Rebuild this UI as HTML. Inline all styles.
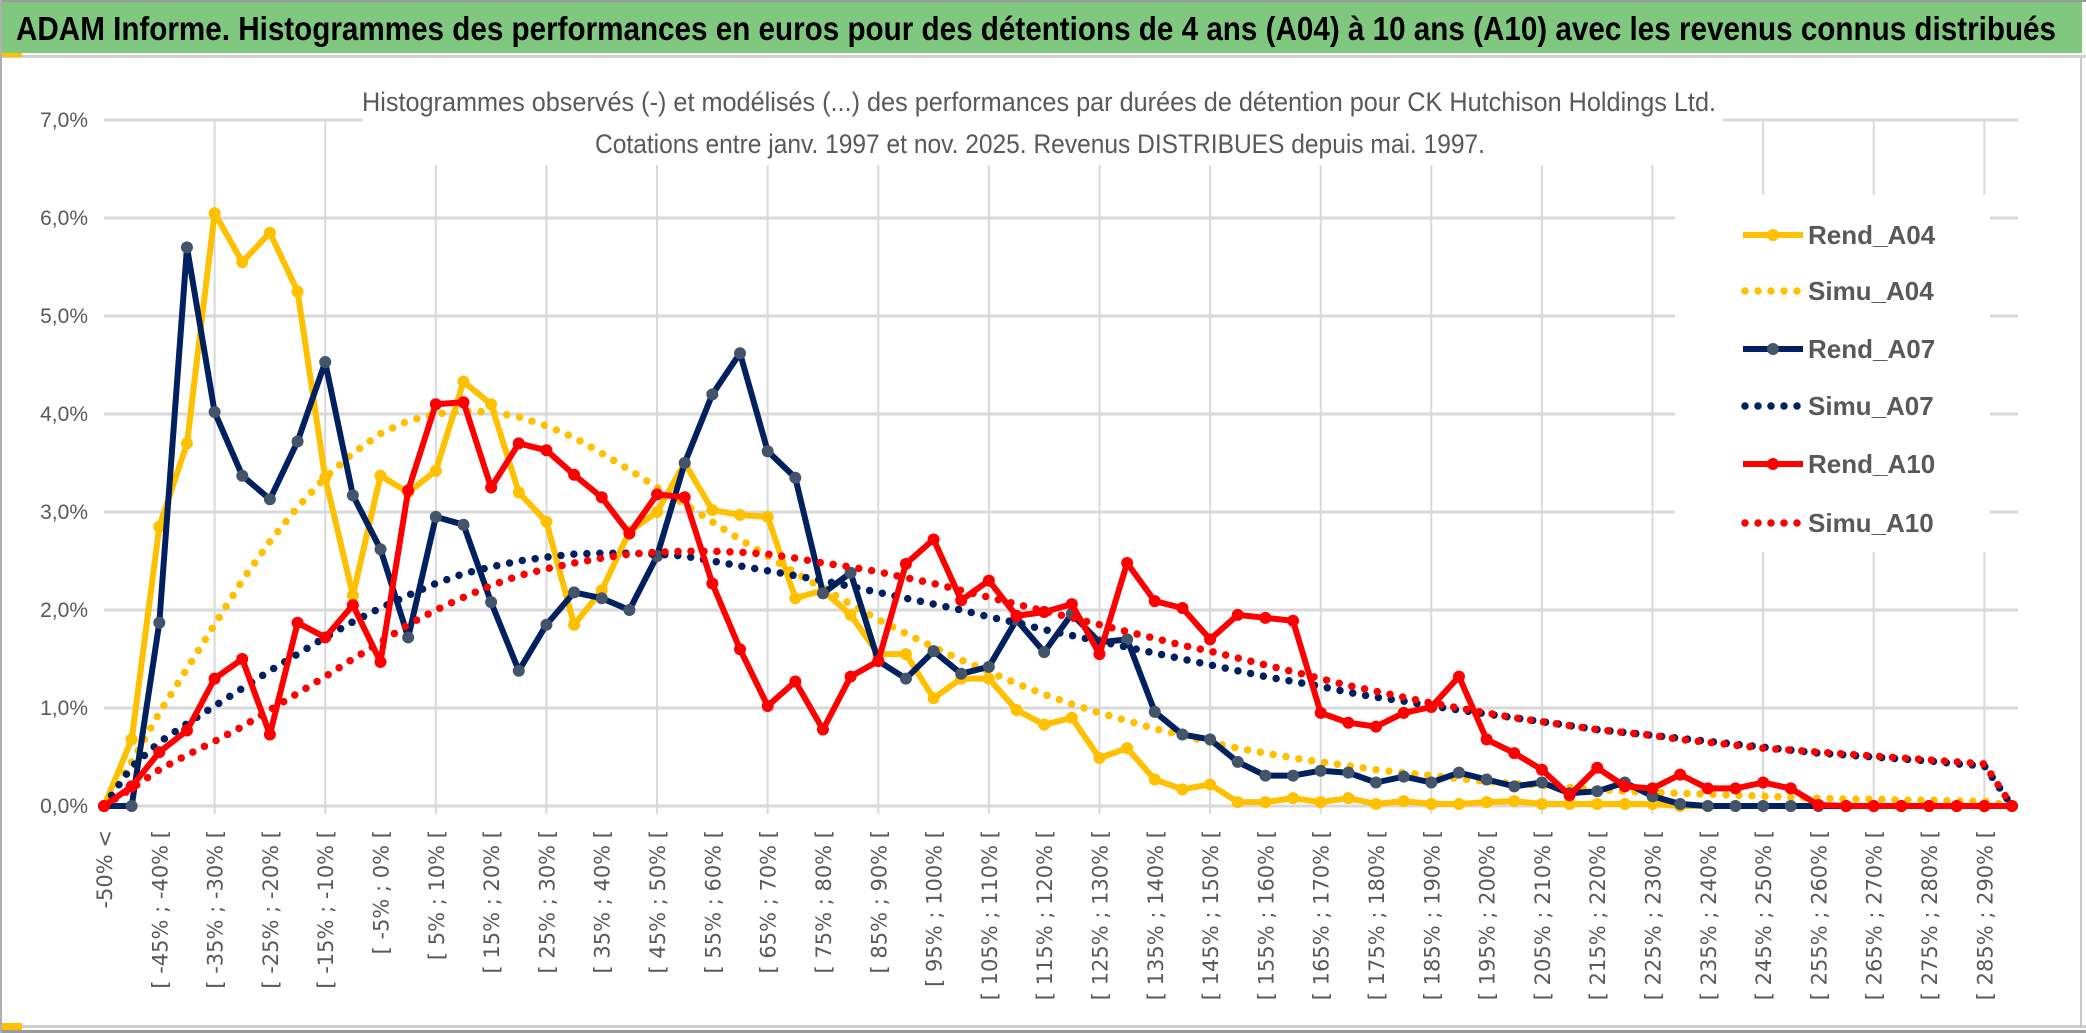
<!DOCTYPE html>
<html><head><meta charset="utf-8">
<style>
html,body{margin:0;padding:0;background:#fff;}
body{width:2086px;height:1033px;overflow:hidden;position:relative;font-family:"Liberation Sans",sans-serif;}
svg{position:absolute;left:0;top:0;}
</style></head>
<body>
<svg id="chart" width="2086" height="1033" viewBox="0 0 2086 1033">
  <rect x="0" y="0" width="2086" height="1033" fill="#fff"/>
  <rect x="0" y="2" width="2082" height="51" fill="#80c880"/>
  <rect x="0" y="0" width="2086" height="2" fill="#9a9a9a"/>
  <rect x="0" y="55" width="2086" height="3" fill="#d0d0d0"/>
  <rect x="0" y="53" width="22" height="4" fill="#ffc000"/>
  <rect x="0" y="1025" width="2086" height="3" fill="#d0d0d0"/>
  <rect x="0" y="1023" width="22" height="7" fill="#ffc000"/>
  <rect x="0" y="1030" width="2086" height="3" fill="#9a9a9a"/>
  <rect x="0" y="0" width="2" height="1033" fill="#b0b0b0"/>
  <rect x="2080" y="58" width="2" height="970" fill="#c8c8c8"/>
  <text x="16" y="40" font-family="'Liberation Sans Narrow','Liberation Sans',sans-serif" font-weight="bold" font-size="33" fill="#000" textLength="2040" lengthAdjust="spacingAndGlyphs">ADAM Informe. Histogrammes des performances en euros pour des détentions de 4 ans (A04) à 10 ans (A10) avec les revenus connus distribués</text>
  <g id="grid"></g>
  <rect x="363" y="85" width="1360" height="80" fill="#fff"/>
  <text x="1039" y="111" text-anchor="middle" font-family="'Liberation Sans Narrow','Liberation Sans',sans-serif" font-size="27" fill="#595959" textLength="1354" lengthAdjust="spacingAndGlyphs">Histogrammes observés (-) et modélisés (...) des performances par durées de détention pour CK Hutchison Holdings Ltd.</text>
  <text x="1040" y="153" text-anchor="middle" font-family="'Liberation Sans Narrow','Liberation Sans',sans-serif" font-size="27" fill="#595959" textLength="890" lengthAdjust="spacingAndGlyphs">Cotations entre janv. 1997 et nov. 2025. Revenus DISTRIBUES depuis mai. 1997.</text>
  <rect x="1675" y="195" width="315" height="357" fill="#fff"/>
  <g id="yaxis"></g>
  <g id="xaxis"></g>
  <g id="series"></g>
  <g id="legend"></g>
</svg>
<script>
const rendA04 = [0,0.68,2.85,3.7,6.05,5.55,5.85,5.25,3.35,2.15,3.37,3.2,3.42,4.33,4.1,3.2,2.9,1.85,2.2,2.8,3.0,3.5,3.02,2.97,2.95,2.12,2.2,1.95,1.55,1.55,1.1,1.3,1.3,0.98,0.83,0.9,0.49,0.59,0.27,0.17,0.22,0.04,0.04,0.08,0.04,0.08,0.02,0.05,0.02,0.02,0.04,0.05,0.02,0.02,0.02,0.02,0.02,0,0,0,0,0,0,0,0,0,0,0,0,0];
const simuA04 = [0,0.45,0.95,1.4,1.85,2.3,2.7,3.05,3.35,3.6,3.8,3.93,4.0,4.03,4.02,3.97,3.88,3.76,3.6,3.43,3.25,3.08,2.9,2.72,2.55,2.38,2.22,2.06,1.9,1.76,1.62,1.49,1.37,1.25,1.14,1.04,0.95,0.87,0.79,0.72,0.65,0.59,0.54,0.49,0.45,0.41,0.37,0.34,0.31,0.28,0.25,0.23,0.21,0.19,0.17,0.15,0.14,0.13,0.12,0.11,0.1,0.09,0.08,0.07,0.07,0.06,0.06,0.05,0.05,0];
const rendA07 = [0,0,1.87,5.7,4.02,3.37,3.13,3.72,4.53,3.17,2.62,1.72,2.95,2.87,2.08,1.38,1.85,2.18,2.12,2.0,2.55,3.5,4.2,4.62,3.62,3.35,2.17,2.38,1.48,1.3,1.58,1.35,1.42,1.9,1.57,1.96,1.67,1.7,0.96,0.73,0.68,0.45,0.31,0.31,0.36,0.34,0.24,0.3,0.24,0.34,0.27,0.2,0.24,0.13,0.15,0.24,0.1,0.02,0,0,0,0,0,0,0,0,0,0,0,0];
const simuA07 = [0,0.4,0.65,0.84,1.02,1.2,1.38,1.55,1.72,1.88,2.02,2.15,2.27,2.37,2.44,2.5,2.54,2.57,2.58,2.58,2.57,2.55,2.5,2.45,2.4,2.35,2.3,2.24,2.18,2.12,2.06,2.0,1.93,1.87,1.8,1.74,1.68,1.62,1.56,1.5,1.44,1.38,1.32,1.27,1.22,1.16,1.11,1.07,1.02,0.98,0.94,0.9,0.86,0.82,0.78,0.75,0.72,0.69,0.66,0.63,0.6,0.57,0.54,0.52,0.5,0.48,0.46,0.43,0.41,0];
const rendA10 = [0,0.2,0.55,0.77,1.3,1.5,0.73,1.87,1.72,2.05,1.47,3.22,4.1,4.12,3.25,3.7,3.63,3.38,3.15,2.78,3.18,3.15,2.27,1.6,1.02,1.27,0.78,1.32,1.48,2.47,2.72,2.1,2.3,1.94,1.98,2.06,1.55,2.48,2.09,2.02,1.7,1.95,1.92,1.89,0.95,0.85,0.81,0.95,1.01,1.32,0.68,0.54,0.37,0.11,0.39,0.2,0.18,0.32,0.18,0.18,0.24,0.18,0.01,0,0,0,0,0,0,0];
const simuA10 = [0,0.18,0.37,0.52,0.66,0.81,0.98,1.15,1.32,1.5,1.67,1.85,2.0,2.13,2.25,2.35,2.42,2.48,2.53,2.57,2.59,2.6,2.6,2.59,2.57,2.53,2.48,2.44,2.39,2.33,2.27,2.2,2.13,2.06,1.99,1.92,1.85,1.78,1.71,1.64,1.58,1.51,1.44,1.37,1.3,1.23,1.17,1.11,1.05,1.0,0.95,0.9,0.86,0.82,0.78,0.75,0.72,0.68,0.65,0.62,0.59,0.57,0.55,0.53,0.51,0.49,0.47,0.45,0.43,0];
const yTicks = [0,1,2,3,4,5,6,7];
const yTickLabels = ["0,0%","1,0%","2,0%","3,0%","4,0%","5,0%","6,0%","7,0%"];
const legendNames = ["Rend_A04","Simu_A04","Rend_A07","Simu_A07","Rend_A10","Simu_A10"];

const NS = "http://www.w3.org/2000/svg";
const X0 = 104, X1 = 2012, Y0 = 806, Y1 = 120, YMAX = 7;
const N = rendA04.length;
function xs(i){ return X0 + (X1 - X0) * i / (N - 1); }
function ys(v){ return Y0 - (Y0 - Y1) * v / YMAX; }
function mk(tag, attrs, parent){ const e = document.createElementNS(NS, tag); for (const k in attrs) e.setAttribute(k, attrs[k]); parent.appendChild(e); return e; }

const grid = document.getElementById('grid');
yTicks.forEach((t) => {
  const l = mk('line', {x1: X0, x2: X1 + 6, y1: ys(t), y2: ys(t), stroke: '#d9d9d9', 'stroke-width': 3}, grid);
  
  
});
for (let i = 4; i < N; i += 4) {
  const l = mk('line', {x1: xs(i), x2: xs(i), y1: Y1, y2: Y0 + 8, stroke: '#d9d9d9', 'stroke-width': 2}, grid);
  
  
}

const yaxis = document.getElementById('yaxis');
yTicks.forEach((t, k) => {
  const tx = mk('text', {x: 88, y: ys(t) + 7, 'text-anchor': 'end', 'font-size': 21, fill: '#595959', 'font-family': "'Liberation Sans Narrow','Liberation Sans',sans-serif"}, yaxis);
  tx.textContent = yTickLabels[k];
  
  
});

const xaxis = document.getElementById('xaxis');
function catLabel(i){
  if (i === 0) return "-50% <";
  const lo = -50 + 5 * (i - 1), hi = lo + 5;
  return "[ " + lo + "% ; " + hi + "% [";
}
for (let i = 0; i < N - 1; i += 2) {
  const x = xs(i) + 8;
  const tx = mk('text', {x: 0, y: 0, 'text-anchor': 'end', 'font-size': 21, fill: '#595959', 'font-family': "'DejaVu Sans',sans-serif", transform: 'translate(' + x + ',830) rotate(-90)'}, xaxis);
  tx.textContent = catLabel(i);
  
  
}

const series = document.getElementById('series');
function ptsOf(arr){ return arr.map((v, i) => xs(i).toFixed(1) + ',' + ys(v).toFixed(1)).join(' '); }
function solid(arr, color, mcolor, name){
  const g = mk('g', {}, series);
  
  
  const p = mk('polyline', {points: ptsOf(arr), fill: 'none', stroke: color, 'stroke-width': 6, 'stroke-linejoin': 'round'}, g);
  
  
  arr.forEach((v, i) => {
    const c = mk('circle', {cx: xs(i), cy: ys(v), r: 6, fill: mcolor}, g);
    
    
  });
}
function dotted(arr, color, name){
  const p = mk('polyline', {points: ptsOf(arr), fill: 'none', stroke: color, 'stroke-width': 7.5, 'stroke-linecap': 'round', 'stroke-dasharray': '0 13'}, series);
  
  
}
solid(rendA04, '#ffc000', '#ffc000', 'rend-a04');
dotted(simuA04, '#ffc000', 'simu-a04');
solid(rendA07, '#002060', '#44546a', 'rend-a07');
dotted(simuA07, '#002060', 'simu-a07');
solid(rendA10, '#ff0000', '#ff0000', 'rend-a10');
dotted(simuA10, '#ff0000', 'simu-a10');

const legend = document.getElementById('legend');
const legColors = ['#ffc000','#ffc000','#002060','#002060','#ff0000','#ff0000'];
const legY = [235, 291, 349, 406, 464, 523];
legendNames.forEach((nm, k) => {
  const y = legY[k];
  const isSolid = k % 2 === 0;
  if (isSolid) {
    const l = mk('line', {x1: 1743, x2: 1803, y1: y, y2: y, stroke: legColors[k], 'stroke-width': 6}, legend);
    
    
    const c = mk('circle', {cx: 1773, cy: y, r: 6, fill: k === 2 ? '#44546a' : legColors[k]}, legend);
    
    
  } else {
    const l = mk('line', {x1: 1745, x2: 1803, y1: y, y2: y, stroke: legColors[k], 'stroke-width': 7.5, 'stroke-linecap': 'round', 'stroke-dasharray': '0 13'}, legend);
    
    
  }
  const t = mk('text', {x: 1808, y: y + 9, 'font-size': 26, 'font-weight': 'bold', fill: '#595959', 'font-family': "'Liberation Sans Narrow','Liberation Sans',sans-serif"}, legend);
  t.textContent = nm;
  
  
});
</script>
</body></html>
